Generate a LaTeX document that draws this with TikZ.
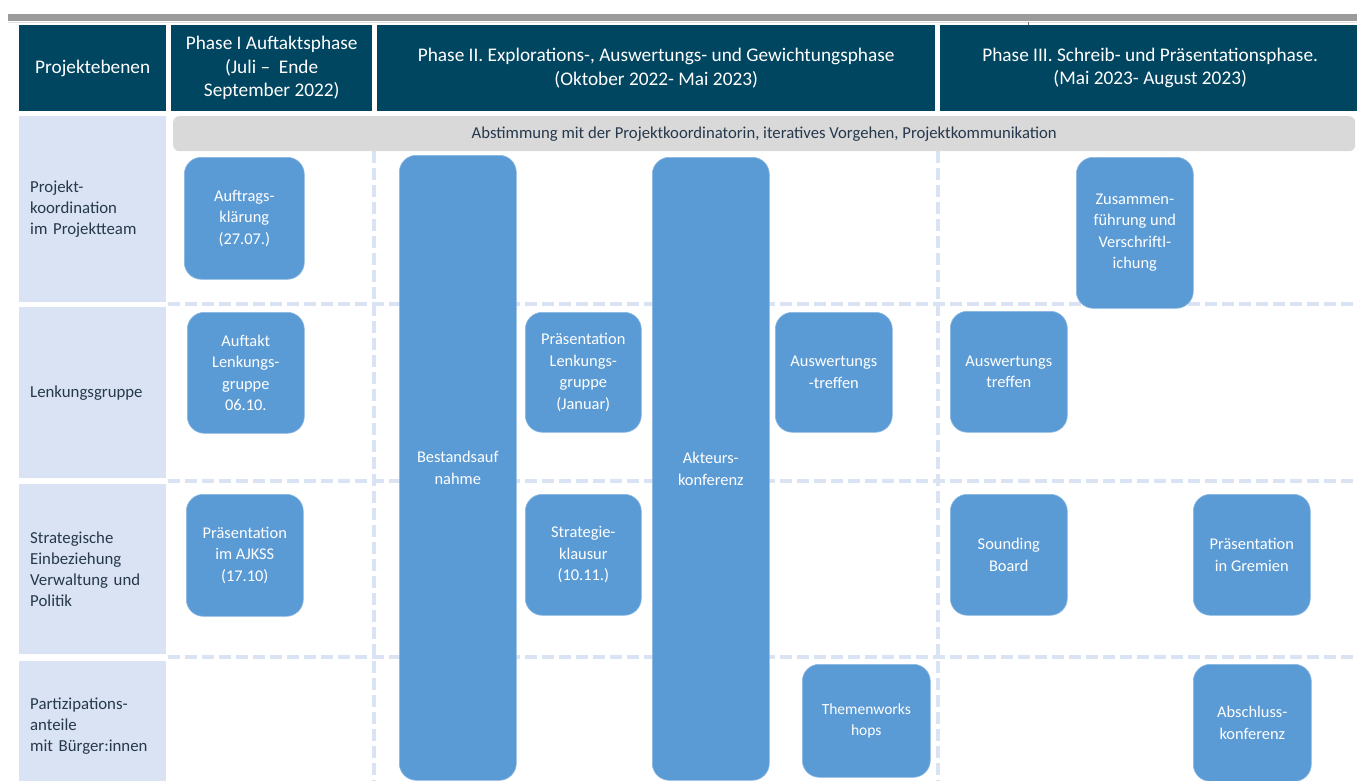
\documentclass[tikz,border=0pt]{standalone}
\usepackage{fontspec}
\setmainfont{Carlito}
\usetikzlibrary{positioning}

\definecolor{kopfblau}{RGB}{0,70,96}
\definecolor{ebenenblau}{RGB}{218,227,243}
\definecolor{terminblau}{RGB}{91,155,213}
\definecolor{schrift}{RGB}{38,56,76}
\definecolor{balkengrau}{RGB}{217,217,217}
\definecolor{randgrau}{RGB}{155,155,155}

\begin{document}
\begin{tikzpicture}[x=1pt, y=-1pt,
    kopf/.style={fill=kopfblau, text=white, inner sep=0pt, anchor=north west, align=center,
        font=\fontsize{19.3}{23.5}\selectfont},
    ebene/.style={fill=ebenenblau, text=schrift, inner xsep=11pt, inner ysep=0pt, anchor=north west,
        text width=125pt, align=left, font=\fontsize{16.8}{20.7}\selectfont},
    termin/.style={fill=terminblau, draw=terminblau!70!white, line width=0.6pt, text=white,
        rounded corners=17pt, inner sep=0pt, anchor=north west, align=center,
        font=\fontsize{16.4}{21.5}\selectfont},
    raster/.style={ebenenblau, line width=4pt, dash pattern=on 12pt off 5pt}]

    \useasboundingbox (0,0) rectangle (1357,781);

    % Randleiste oben
    \fill[randgrau] (8,14) rectangle (1357,21);
    \draw[black!12, line width=0.8pt] (8,22.5) -- (1357,22.5);
    \draw[black!55, line width=0.6pt] (1028,22) -- (1028,25.5);

    % Kopfzeile
    \node[kopf, minimum width=147pt, minimum height=86pt] (ebenen) at (19,25) {Projektebenen};
    \node[kopf, minimum width=201pt, minimum height=86pt] (phase1) at (171,25)
        {Phase I Auftaktsphase\\(Juli --\ \ Ende\\September 2022)};
    \node[kopf, minimum width=558pt, minimum height=86pt] (phase2) at (377,25)
        {Phase II. Explorations-, Auswertungs- und Gewichtungsphase\\(Oktober 2022- Mai 2023)};
    \node[kopf, minimum width=420pt, minimum height=86pt] (phase3) at (940,25)
        {Phase III. Schreib- und Pr\"asentationsphase.\\(Mai 2023- August 2023)};

    % Projektebenen links
    \node[ebene, minimum height=186pt] (koord) at (19,116) {Projekt-\\koordination\\im Projektteam};
    \node[ebene, minimum height=171pt] (lenkung) at (19,307) {Lenkungsgruppe};
    \node[ebene, minimum height=170pt] (strategie) at (19,484)
        {Strategische\\Einbeziehung\\Verwaltung und\\Politik};
    \node[ebene, minimum height=130pt] (partizipation) at (19,661)
        {Partizipations-\\anteile\\mit B\"urger:innen};

    % Raster
    \foreach \y in {304,481,657}
        \draw[raster] (168,\y) -- (1357,\y);
    \foreach \x in {374,938}
        \draw[raster] (\x,151) -- (\x,781);

    % Abstimmungsbalken
    \node[fill=balkengrau, rounded corners=6pt, inner sep=0pt, anchor=north west,
        minimum width=1182pt, minimum height=35pt, text=schrift,
        font=\fontsize{16.7}{19}\selectfont] (abstimmung) at (173,116)
        {Abstimmung mit der Projektkoordinatorin, iteratives Vorgehen, Projektkommunikation};

    % Phase I
    \node[termin, minimum width=120pt, minimum height=122pt] (auftrag) at (184,157)
        {Auftrags-\\kl\"arung\\(27.07.)};
    \node[termin, minimum width=117pt, minimum height=121pt] (auftakt) at (187,312)
        {Auftakt\\Lenkungs-\\gruppe\\06.10.};
    \node[termin, minimum width=117pt, minimum height=122pt] (ajkss) at (186,494)
        {Pr\"asentation\\im AJKSS\\(17.10)};

    % Phase II
    \node[termin, minimum width=117pt, minimum height=625pt] (bestand) at (399,155)
        {Bestandsauf\\nahme};
    \node[termin, minimum width=116pt, minimum height=120pt] (praesLG) at (525,312)
        {Pr\"asentation\\Lenkungs-\\gruppe\\(Januar)};
    \node[termin, minimum width=116pt, minimum height=121pt] (klausur) at (525,494)
        {Strategie-\\klausur\\(10.11.)};
    \node[termin, minimum width=117pt, minimum height=623pt] (akteure) at (652,157)
        {Akteurs-\\konferenz};
    \node[termin, minimum width=117pt, minimum height=120pt] (auswertA) at (775,312)
        {Auswertungs\\-treffen};
    \node[termin, minimum width=128pt, minimum height=113pt, font=\fontsize{15.5}{21.5}\selectfont]
        (themen) at (802,664) {Themenworks\\hops};

    % Phase III
    \node[termin, minimum width=117pt, minimum height=151pt] (zusammen) at (1076,157)
        {Zusammen-\\f\"uhrung und\\Verschriftl-\\ichung};
    \node[termin, minimum width=117pt, minimum height=121pt] (auswertB) at (950,311)
        {Auswertungs\\treffen};
    \node[termin, minimum width=117pt, minimum height=121pt] (sounding) at (950,494)
        {Sounding\\Board};
    \node[termin, minimum width=117pt, minimum height=121pt] (gremien) at (1193,494)
        {Pr\"asentation\\in Gremien};
    \node[termin, minimum width=118pt, minimum height=117pt] (abschluss) at (1193,664)
        {Abschluss-\\konferenz};
\end{tikzpicture}
\end{document}
